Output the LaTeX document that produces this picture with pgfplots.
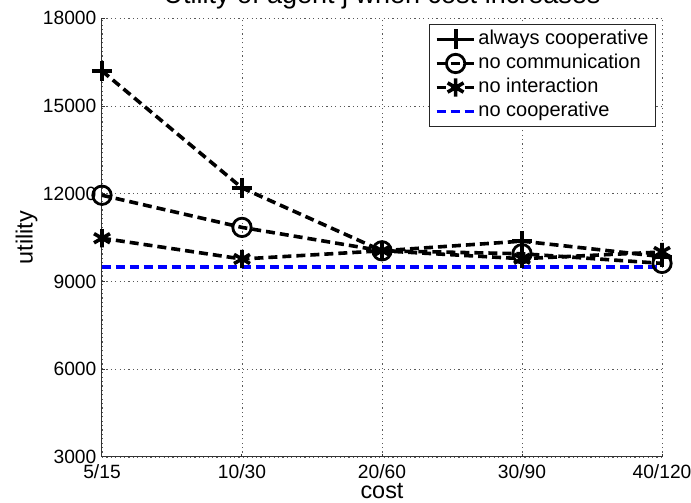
\documentclass[border=0pt]{standalone}
\usepackage{pgfplots}
\pgfplotsset{compat=1.18}
\usepackage{fontspec}
\setmainfont{Liberation Sans}
\definecolor{mblue}{RGB}{0,0,255}
\begin{document}
\begin{tikzpicture}
\begin{axis}[
  name=ax,
  scale only axis,
  width=280pt, height=219.35pt,
  xmin=0, xmax=4, ymin=3000, ymax=18000,
  xtick={0,1,2,3,4},
  xticklabels={5/15,10/30,20/60,30/90,40/120},
  ytick={3000,6000,9000,12000,15000,18000},
  /pgf/number format/assume math mode=true,
  /pgf/number format/1000 sep={},
  scaled y ticks=false,
  axis x line*=bottom, axis y line*=left,
  axis line style={-, draw=black!80, line width=0.5pt},
  tick align=inside,
  major tick length=1.5pt,
  tick style={black!80, line width=0.5pt},
  grid=major,
  major grid style={black!65, line width=0.45pt, dash pattern=on 0.6pt off 1.6pt},
  clip=false,
  ticklabel style={font=\fontsize{9.6}{11}\selectfont},
  xticklabel style={anchor=base, yshift=-11pt},
  yticklabel style={anchor=east, inner xsep=0pt, xshift=-2.65pt},
  every axis title shift=0pt,
  title={Utility of agent j when cost increases},
  title style={font=\fontsize{13.5}{15}\selectfont, at={(axis description cs:0.5,1)}, anchor=base, yshift=7.3pt},
  xlabel={cost},
  xlabel style={font=\fontsize{11.7}{13}\selectfont, at={(axis description cs:0.5,0)}, anchor=base, yshift=-21pt},
  ylabel={utility},
  ylabel style={font=\fontsize{11.7}{13}\selectfont, at={(axis description cs:-0.1348,0.5)}, anchor=center},
  legend cell align=left,
  legend image code/.code={\draw[mark repeat=2,mark phase=2,#1] plot coordinates {(0pt,0pt) (9.5pt,0pt) (19pt,0pt)};},
  legend style={at={(rel axis cs:1,1)}, anchor=north east, xshift=-3pt, yshift=-3pt,
    font=\fontsize{10}{12}\selectfont, draw=black!85, line width=0.5pt,
    inner xsep=2.5pt, inner ysep=1.35pt, row sep=0pt,
    nodes={inner xsep=1pt, inner ysep=1pt, text height=7.5pt, text depth=2.5pt}},
  every axis plot/.append style={line width=1.8pt, dash pattern=on 4.5pt off 2.5pt},
]
\addplot[black, mark=+, mark size=5pt, mark options={solid, line width=1.9pt}]
  coordinates {(0,16200) (1,12200) (2,10050) (3,10380) (4,9850)};
\addlegendentry{always cooperative}
\addplot[black, mark=o, mark size=4.6pt, mark options={solid, line width=1.4pt}]
  coordinates {(0,11950) (1,10850) (2,10050) (3,9950) (4,9620)};
\addlegendentry{no communication}
\addplot[black, mark=asterisk, mark size=4.6pt, mark options={solid, line width=1.8pt}]
  coordinates {(0,10480) (1,9770) (2,10050) (3,9780) (4,10010)};
\addlegendentry{no interaction}
\addplot[mblue, no marks]
  coordinates {(0,9500) (1,9500) (2,9500) (3,9500) (4,9500)};
\addlegendentry{no cooperative}
\end{axis}
\pgfresetboundingbox
\path ([shift={(-51pt,-23pt)}]ax.south west) rectangle ([shift={(14.5pt,9.15pt)}]ax.north east);
\end{tikzpicture}
\end{document}
